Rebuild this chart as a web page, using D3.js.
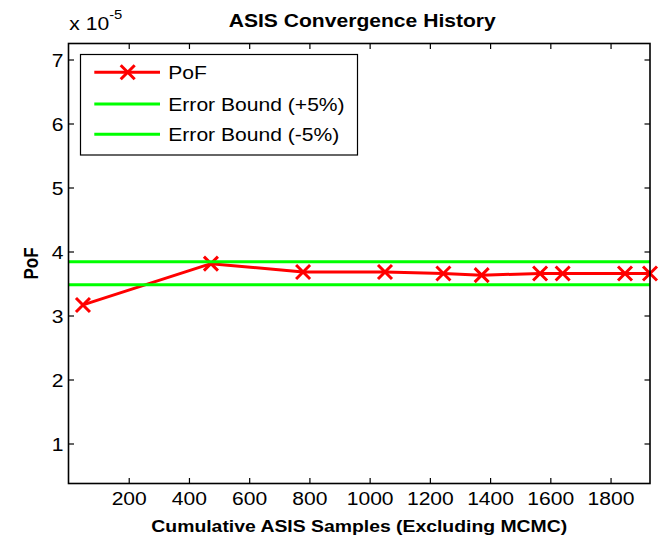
<!DOCTYPE html>
<html>
<head>
<meta charset="utf-8">
<script src="https://cdn.jsdelivr.net/npm/d3@7"></script>
<style>
  html, body { margin: 0; padding: 0; background: #fff; }
  svg { display: block; }
  text { font-family: "Liberation Sans", Arial, Helvetica, sans-serif; fill: #000; }
</style>
</head>
<body>
<svg id="chart" width="668" height="544"></svg>
<script>
// Cumulative ASIS sample counts at each convergence checkpoint
const samples = [48, 473, 779, 1051, 1245, 1372, 1566, 1641, 1848, 1931];
// Estimated probability of failure at each checkpoint (units of 1e-5)
const pof = [3.165, 3.81, 3.68, 3.68, 3.656, 3.63, 3.656, 3.656, 3.656, 3.656];
// ±5% error bounds around the converged estimate (units of 1e-5)
const boundX = [0, 1931];
const boundPlus = [3.84, 3.84];
const boundMinus = [3.48, 3.48];
// Axis ticks and labels
const xTicks = [200, 400, 600, 800, 1000, 1200, 1400, 1600, 1800];
const yTicks = [1, 2, 3, 4, 5, 6, 7];
const legendLabels = ["PoF", "Error Bound (+5%)", "Error Bound (-5%)"];

const W = 668, H = 544;
const plot = { left: 68.5, right: 650, top: 43.5, bottom: 483.5 };
const SX = 1.14;          // horizontal stretch applied to all text
const TICK = 5.5;         // inward tick length

const svg = d3.select("#chart");

const x = d3.scaleLinear().domain([0, 1931]).range([plot.left, plot.right]);
const y = d3.scaleLinear().domain([0.375, 7.25]).range([plot.bottom, plot.top]);

// widen glyphs horizontally while keeping their anchor point fixed
function stretch(sel) {
  sel.each(function () {
    const t = d3.select(this);
    const x0 = +t.attr("x") || 0;
    t.attr("x", x0 / SX).attr("transform", `scale(${SX},1)`);
  });
}

// axes with inward ticks on all four sides
const gx = svg.append("g")
  .attr("transform", `translate(0,${plot.bottom})`)
  .call(d3.axisBottom(x).tickValues(xTicks).tickSize(-TICK).tickPadding(8.5).tickFormat(d3.format("d")));
const gxTop = svg.append("g")
  .attr("transform", `translate(0,${plot.top})`)
  .call(d3.axisTop(x).tickValues(xTicks).tickSize(-TICK).tickFormat(""));
const gy = svg.append("g")
  .attr("transform", `translate(${plot.left},0)`)
  .call(d3.axisLeft(y).tickValues(yTicks).tickSize(-TICK).tickPadding(5).tickFormat(d3.format("d")));
const gyRight = svg.append("g")
  .attr("transform", `translate(${plot.right},0)`)
  .call(d3.axisRight(y).tickValues(yTicks).tickSize(-TICK).tickFormat(""));

[gx, gxTop, gy, gyRight].forEach(g => {
  g.select(".domain").remove();
  g.selectAll(".tick line").attr("stroke", "#000").attr("stroke-width", 1.2);
  g.selectAll("text").attr("font-family", null).style("font-size", "18.5px").attr("fill", "#000");
});
gy.selectAll("text").attr("dy", "0.36em");
stretch(gx.selectAll("text"));
stretch(gy.selectAll("text"));

// error bound lines and the PoF series
const line = d3.line().x(d => x(d[0])).y(d => y(d[1]));

svg.append("path")
  .datum(samples.map((s, i) => [s, pof[i]]))
  .attr("d", line)
  .attr("fill", "none").attr("stroke", "#ff0000").attr("stroke-width", 3)
  .attr("stroke-linejoin", "round");

const marker = 7;
svg.append("g").selectAll("path.mk")
  .data(samples.map((s, i) => [s, pof[i]]))
  .join("path")
  .attr("class", "mk")
  .attr("d", d => {
    const cx = x(d[0]), cy = y(d[1]);
    return `M${cx - marker},${cy - marker}L${cx + marker},${cy + marker}M${cx - marker},${cy + marker}L${cx + marker},${cy - marker}`;
  })
  .attr("stroke", "#ff0000").attr("stroke-width", 3).attr("fill", "none");

[boundPlus, boundMinus].forEach(b => {
  svg.append("path")
    .datum(boundX.map((bx, i) => [bx, b[i]]))
    .attr("d", line)
    .attr("fill", "none").attr("stroke", "#00ff00").attr("stroke-width", 3);
});

// axes box
svg.append("rect")
  .attr("x", plot.left).attr("y", plot.top)
  .attr("width", plot.right - plot.left).attr("height", plot.bottom - plot.top)
  .attr("fill", "none").attr("stroke", "#000").attr("stroke-width", 1.6);

// legend
const lg = svg.append("g");
lg.append("rect")
  .attr("x", 80.5).attr("y", 54.5).attr("width", 277).attr("height", 100.5)
  .attr("fill", "#fff").attr("stroke", "#000").attr("stroke-width", 1.2);
const rowsY = [72.3, 104, 134.3];
const legendColors = ["#ff0000", "#00ff00", "#00ff00"];
legendLabels.forEach((lab, i) => {
  const ry = rowsY[i];
  lg.append("line")
    .attr("x1", 94.3).attr("x2", 160).attr("y1", ry).attr("y2", ry)
    .attr("stroke", legendColors[i]).attr("stroke-width", 3);
  if (i === 0) {
    const cx = 127.7;
    lg.append("path")
      .attr("d", `M${cx - marker},${ry - marker}L${cx + marker},${ry + marker}M${cx - marker},${ry + marker}L${cx + marker},${ry - marker}`)
      .attr("stroke", "#ff0000").attr("stroke-width", 3);
  }
  lg.append("text")
    .attr("x", 168.3).attr("y", ry).attr("dy", "0.36em")
    .style("font-size", "18.5px")
    .text(lab);
});
stretch(lg.selectAll("text"));

// title
stretch(svg.append("text")
  .attr("x", (plot.left + plot.right) / 2 + 3).attr("y", 26.7)
  .attr("text-anchor", "middle")
  .style("font-size", "18.5px").style("font-weight", "bold")
  .text("ASIS Convergence History"));

// exponent note above the y axis
const ex = svg.append("text").attr("x", 69.3).attr("y", 30).style("font-size", "18.5px");
ex.append("tspan").text("x 10");
ex.append("tspan").attr("dy", -11).style("font-size", "13px").text("-5");
stretch(ex);

// axis titles
stretch(svg.append("text")
  .attr("x", (plot.left + plot.right) / 2).attr("y", 532)
  .attr("text-anchor", "middle")
  .style("font-size", "17px").style("font-weight", "bold")
  .text("Cumulative ASIS Samples (Excluding MCMC)"));

svg.append("text")
  .attr("transform", `translate(38,${(plot.top + plot.bottom) / 2}) scale(${SX},1) rotate(-90)`)
  .attr("text-anchor", "middle")
  .style("font-size", "17px").style("font-weight", "bold")
  .text("PoF");
</script>
</body>
</html>
